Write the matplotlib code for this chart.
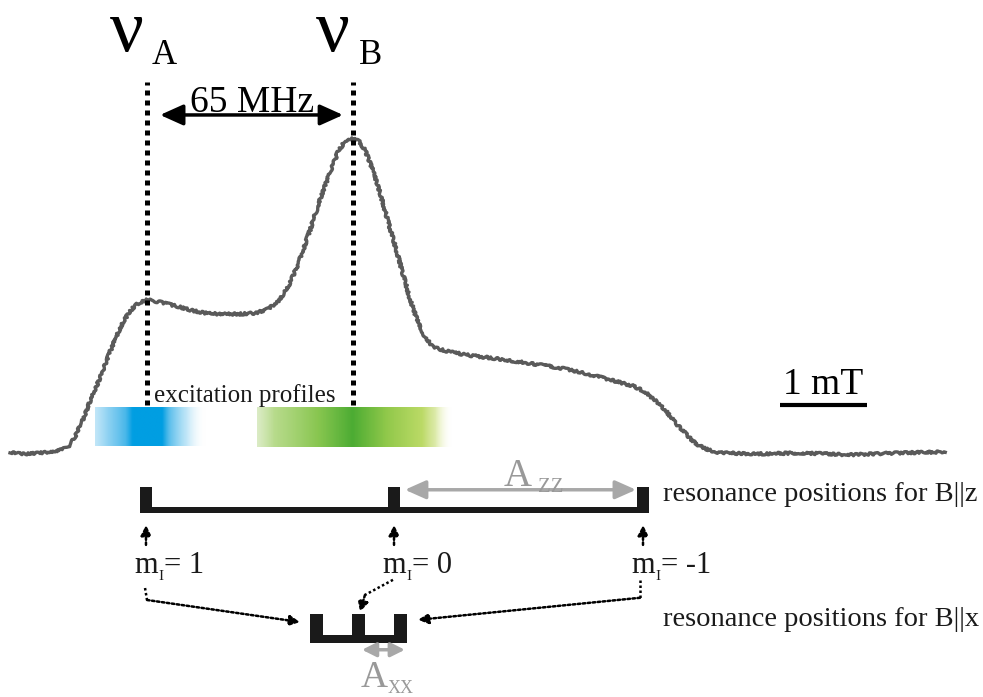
import numpy as np
import matplotlib.pyplot as plt

plt.rcParams['font.family'] = ['Liberation Serif', 'DejaVu Serif']
plt.rcParams['mathtext.fontset'] = 'stix'

# echo-detected field sweep: field offset (mT) and normalised echo intensity
field = [0.00, 0.23, 0.46, 0.60, 0.69, 0.77, 0.86, 0.94, 1.00, 1.08, 1.15,
         1.23, 1.30, 1.38, 1.46, 1.57, 1.72, 1.90, 2.07, 2.24, 2.41, 2.64,
         2.82, 2.97, 3.10, 3.22, 3.33, 3.45, 3.56, 3.68, 3.77, 3.85, 3.93,
         4.00, 4.08, 4.16, 4.25, 4.34, 4.44, 4.52, 4.60, 4.68, 4.77, 4.86,
         5.00, 5.25, 5.63, 6.01, 6.32, 6.59, 6.90, 7.16, 7.30, 7.41, 7.53,
         7.64, 7.76, 7.87, 7.99, 8.16, 8.62, 9.08, 9.66, 10.23, 10.75]
intensity = [0.000, -0.003, 0.003, 0.010, 0.025, 0.063, 0.121, 0.178, 0.216,
             0.270, 0.321, 0.375, 0.416, 0.451, 0.473, 0.486, 0.479, 0.467,
             0.454, 0.444, 0.441, 0.441, 0.444, 0.457, 0.486, 0.540, 0.613,
             0.708, 0.803, 0.892, 0.956, 0.990, 1.000, 0.994, 0.962, 0.905,
             0.829, 0.740, 0.644, 0.565, 0.486, 0.422, 0.368, 0.337, 0.324,
             0.311, 0.298, 0.283, 0.270, 0.254, 0.232, 0.213, 0.194, 0.168,
             0.137, 0.098, 0.063, 0.032, 0.013, 0.000, -0.003, 0.000, -0.006,
             0.000, 0.003]

# pump / observer positions (mT)
nu_a = 1.575
nu_b = 3.943
sep_label = '65 MHz'

# nitrogen hyperfine stick spectra
m_labels = ['1', '0', '-1']
z_sticks = [1.563, 4.414, 7.276]
x_sticks = [3.523, 4.006, 4.489]

scale_bar = 1.0  # mT

fig = plt.figure(figsize=(9.83, 6.97), dpi=100)
ax = fig.add_axes([0, 0, 1, 1])
ax.set_xlim(-0.115, 11.184)
ax.set_ylim(-0.775, 1.438)
ax.axis('off')

# spectrum, drawn a bit wobbly like a raw trace
line, = ax.plot(field, intensity, color='#5a5a5a', lw=2.4, zorder=3)
line.set_sketch_params(scale=1.2, length=3, randomness=12)


# excitation profiles as soft colour bands
def band(center, left, right, offs, cols, alphas, y0, y1):
    xs = np.linspace(-left, right, 300)
    img = np.zeros((1, xs.size, 4))
    for k in range(3):
        img[0, :, k] = np.interp(xs, offs, [c[k] for c in cols]) / 255
    img[0, :, 3] = np.interp(xs, offs, alphas)
    ax.imshow(img, extent=[center - left, center + right, y0, y1],
              aspect='auto', interpolation='bilinear', zorder=1)


band(nu_a, 0.60, 0.67,
     [-0.60, -0.45, -0.25, -0.17, 0.17, 0.25, 0.45, 0.67],
     [(120, 200, 240), (80, 185, 235), (40, 170, 230), (0, 158, 226),
      (0, 158, 226), (60, 178, 232), (140, 210, 242), (255, 255, 255)],
     [0.45, 0.65, 0.85, 1.0, 1.0, 0.85, 0.55, 0.0], 0.022, 0.143)
band(nu_b, 1.10, 1.14,
     [-1.10, -0.9, -0.4, 0.0, 0.4, 0.8, 0.95, 1.14],
     [(190, 220, 150), (165, 210, 110), (130, 195, 70), (75, 172, 50),
      (140, 198, 65), (180, 214, 85), (205, 225, 130), (255, 255, 240)],
     [0.55, 0.8, 0.95, 1.0, 0.95, 0.9, 0.7, 0.0], 0.019, 0.143)
ax.text((nu_a + nu_b) / 2 - 0.06, 0.181, 'excitation profiles', ha='center',
        va='center', fontsize=18, color='#1a1a1a', zorder=4)

# observer positions
for nu, sub in [(nu_a, 'A'), (nu_b, 'B')]:
    ax.plot([nu, nu], [0.152, 1.178], color='k', lw=3.6,
            linestyle=(0, (1, 1)), zorder=4)
    ax.text(nu - 0.23, 1.333, '\u03bd', ha='center', va='center',
            fontsize=54, color='k')
    ax.text(nu + 0.2, 1.263, sub, ha='center', va='center', fontsize=25)

ax.annotate('', xy=(nu_b - 0.115, 1.073), xytext=(nu_a + 0.15, 1.073),
            arrowprops=dict(arrowstyle='<|-|>,head_length=1.0,head_width=0.45',
                            color='k', lw=2.5, shrinkA=0, shrinkB=0,
                            mutation_scale=14))
ax.text((nu_a + nu_b) / 2 + 0.02, 1.112, sep_label, ha='center', va='center',
        fontsize=27)

# 1 mT scale bar
ax.plot([8.851, 8.851 + scale_bar], [0.152, 0.152], color='k', lw=3,
        solid_capstyle='butt')
ax.text(8.851 + scale_bar / 2, 0.215, '1 mT', ha='center', va='center',
        fontsize=27)

# stick spectrum for B||z
zw = 0.138
ax.bar(z_sticks, 0.082, bottom=-0.190, width=zw, color='#1a1a1a')
ax.fill_between([z_sticks[0] - zw / 2, z_sticks[-1] + zw / 2], -0.190, -0.171,
                color='#1a1a1a', lw=0)
ax.annotate('', xy=(z_sticks[2] - 0.08, -0.117),
            xytext=(z_sticks[1] + 0.125, -0.117),
            arrowprops=dict(arrowstyle='<|-|>,head_length=0.9,head_width=0.4',
                            color='#a8a8a8', lw=2.5, shrinkA=0, shrinkB=0,
                            mutation_scale=14))
ax.text(5.83, -0.075, 'A', ha='center', va='center', fontsize=28,
        color='#999999')
ax.text(6.22, -0.110, 'ZZ', ha='center', va='center', fontsize=15,
        color='#999999')
ax.text(7.506, -0.133, 'resonance positions for B||z', ha='left',
        va='center', fontsize=20.5, color='#1a1a1a')

# m_I labels with arrows up to the sticks
dot_arrow = dict(arrowstyle='-|>,head_length=0.5,head_width=0.25',
                 color='k', lw=1.8, linestyle=(0, (1, 1)), shrinkA=0,
                 shrinkB=0, mutation_scale=12)
for xs, lab in zip(z_sticks, m_labels):
    ax.annotate('', xy=(xs, -0.229), xytext=(xs, -0.292),
                arrowprops=dot_arrow)
    x0 = xs - 0.13
    ax.text(x0, -0.381, 'm', ha='left', va='baseline', fontsize=22,
            color='#1a1a1a')
    ax.text(x0 + 0.275, -0.402, 'I', ha='left', va='baseline', fontsize=11,
            color='#1a1a1a')
    ax.text(x0 + 0.335, -0.381, '= ' + lab, ha='left', va='baseline',
            fontsize=22, color='#1a1a1a')

# stick spectrum for B||x
xw = 0.149
ax.bar(x_sticks, 0.092, bottom=-0.603, width=xw, color='#1a1a1a')
ax.fill_between([x_sticks[0] - xw / 2, x_sticks[-1] + xw / 2], -0.603, -0.578,
                color='#1a1a1a', lw=0)
ax.annotate('', xy=(x_sticks[2] + 0.05, -0.625),
            xytext=(x_sticks[1] + 0.04, -0.625),
            arrowprops=dict(arrowstyle='<|-|>,head_length=0.6,head_width=0.3',
                            color='#a8a8a8', lw=2.5, shrinkA=0, shrinkB=0,
                            mutation_scale=14))
ax.text(4.19, -0.714, 'A', ha='center', va='center', fontsize=27,
        color='#999999')
ax.text(4.49, -0.748, 'XX', ha='center', va='center', fontsize=13,
        color='#999999')
ax.text(7.506, -0.530, 'resonance positions for B||x', ha='left',
        va='center', fontsize=20.5, color='#1a1a1a')

# dotted paths from the m_I labels down to the B||x sticks
paths = [
    [(1.552, -0.429), (1.575, -0.467), (3.333, -0.537)],
    [(4.402, -0.403), (4.080, -0.451), (4.023, -0.505)],
    [(7.241, -0.403), (7.241, -0.460), (4.690, -0.530)],
]
for p in paths:
    ax.plot([q[0] for q in p[:-1]], [q[1] for q in p[:-1]], color='k', lw=1.8,
            linestyle=(0, (1, 1)))
    ax.annotate('', xy=p[-1], xytext=p[-2], arrowprops=dot_arrow)

fig.savefig('out.png', dpi=100)
